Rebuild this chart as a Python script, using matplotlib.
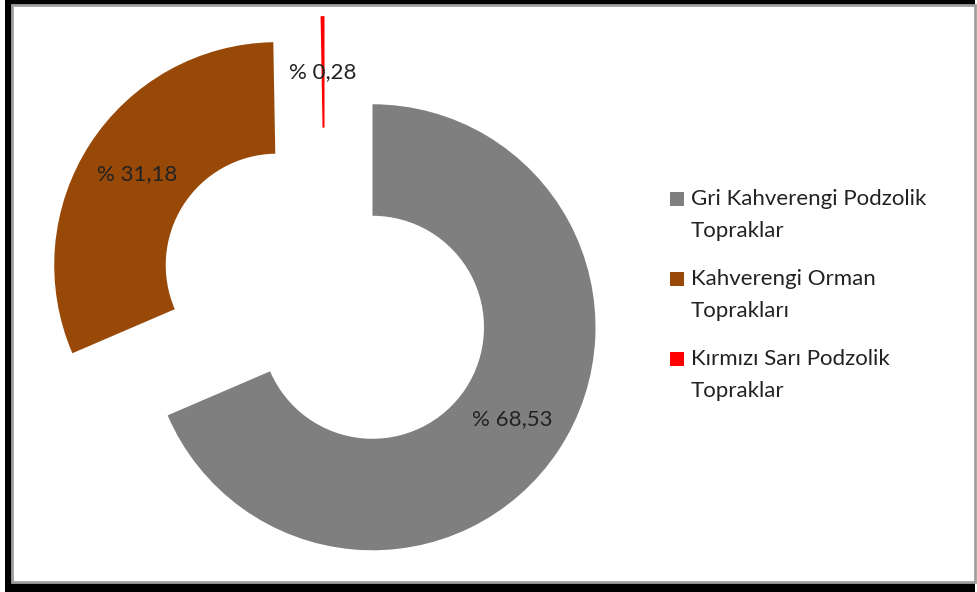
import matplotlib
matplotlib.use('Agg')
import matplotlib.pyplot as plt
from matplotlib.patches import Rectangle
from matplotlib.legend_handler import HandlerPatch

# veriler
names = ['Gri Kahverengi Podzolik\nTopraklar',
         'Kahverengi Orman\nTopraklar\u0131',
         'K\u0131rm\u0131z\u0131 Sar\u0131 Podzolik\nTopraklar']
values = [68.53, 31.18, 0.28]
colors = ['#7F7F7F', '#984807', '#FF0000']

plt.rcParams['font.family'] = ['Lato', 'DejaVu Sans']

W, H = 977, 592
fig = plt.figure(figsize=(W / 100, H / 100), dpi=100)

# cerceve
fig.add_artist(Rectangle((5 / W, 0), (975 - 5) / W, 1, transform=fig.transFigure,
                         facecolor='black', edgecolor='none', zorder=-2))
fig.add_artist(Rectangle((12 / W, 1 - 582 / H), (975 - 12) / W, (582 - 5) / H,
                         transform=fig.transFigure, facecolor='white',
                         edgecolor='#A0A0A0', linewidth=2, zorder=-1))

ax = fig.add_axes([0, 0, 1, 1])
ax.patch.set_alpha(0)
wedges, texts, autotexts = ax.pie(values, colors=colors, startangle=90, counterclock=False,
                                  explode=[0.255] * 3, radius=1,
                                  wedgeprops=dict(width=0.5, linewidth=0),
                                  autopct=lambda p: '', pctdistance=0.75,
                                  textprops=dict(fontsize=16, color='#222222'))
for t, v in zip(autotexts, values):
    t.set_text('% ' + ('%.2f' % v).replace('.', ','))

s = 223.0
ax.set_xlim(-325 / s, (W - 325) / s)
ax.set_ylim(-296 / s, (H - 296) / s)
ax.set_aspect('auto')
ax.axis('off')


# kare isaret ilk satirin hizasinda
def top_square(legend, orig_handle, xdescent, ydescent, width, height, fontsize):
    return Rectangle((-xdescent, -ydescent + height - width + 0.1 * fontsize), width, width)


leg = fig.legend(wedges, names, loc='upper left', bbox_to_anchor=(650 / W, 1 - 169 / H),
                 frameon=False, fontsize=16, handlelength=0.65, handleheight=2.7,
                 handletextpad=0.3, labelspacing=1.25, labelcolor='#222222',
                 handler_map={w: HandlerPatch(patch_func=top_square) for w in wedges})
for t in leg.get_texts():
    t.set_linespacing(1.76)

plt.savefig('out.png', dpi=100)
